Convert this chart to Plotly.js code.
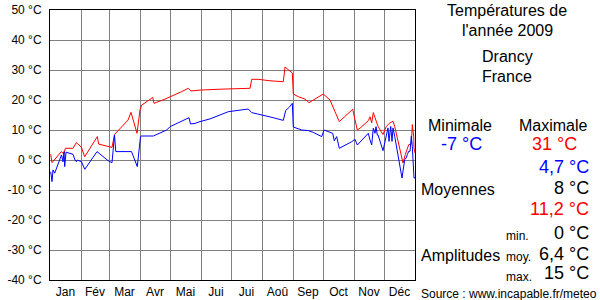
<!DOCTYPE html>
<html>
<head>
<meta charset="utf-8">
<script src="https://cdn.plot.ly/plotly-3.0.1.min.js"></script>
<style>html,body{margin:0;padding:0;background:#fff;}#chart{width:600px;height:300px;}</style>
</head>
<body>
<div id="chart"></div>
<script>
// ---- data (day of year, °C) ----
const maxDays = [0.7,2,11.3,14,15.3,23,26.3,29.7,31.3,34.7,47.3,48.7,58,62,64.5,78,81,83,87,90,91.7,100,102.7,104,115,131.7,138.3,141,150,170,190,200,201.7,208.3,220,233.3,235,238.3,242.3,243.3,248.3,255,259,273.3,280,285,289.3,302.7,307.3,310,318.3,320,321.7,323.3,325,328,333,336.3,339.7,343,344.7,353,355.3,358.7,361.3,362.3,363.7,364,365];
const maxVals = [1.9,-0.9,2.8,2,3.9,3.9,5.8,4.7,4.3,1.1,7.8,5.3,4.4,4.2,8.5,13.3,15.9,13.3,8.9,16.7,18.3,20.2,20.9,18.9,20.3,22.8,23.9,23,23.3,23.6,23.9,23.9,26.9,26.9,26.4,26.1,31,30,29,22,21.1,20.3,19.1,22,20,16.1,12.8,16.9,10,10.6,13.1,14.4,12.4,15.8,13.9,11.2,8.5,11.2,12.3,12.9,11.2,-1,1.8,5.1,5.3,11.8,7.9,4,2.3];
const minDays = [0.7,2,3,4.7,11.5,13,14,14.7,16,20.7,23,25,26.5,27.3,31.5,34.8,47,58,62,64.5,65.8,81.5,87.3,90.5,91,103.3,116.7,120,139,140.5,145,150,160,178.3,198.3,201.7,213.3,223.3,233.3,235.7,239.3,242.3,243.3,251.7,258.3,263.3,271.7,274,282.7,284.3,286.7,289.3,301.7,304,305,307.3,318.3,320,321.7,323.3,325,326,327.3,328,333,336.3,338,339,340.7,342,343,344.7,352,354.7,356.3,357.3,358.7,360,361.3,362.3,363.7,364,365];
const minVals = [-3.9,-7.2,-3.3,-4.4,1.7,-0.6,2.8,-2.2,2.6,2,1.9,0,-0.6,0,-0.6,-3.1,2.8,-0.2,-0.9,8.3,2.8,2.8,-2.2,7.8,8,8,10,11.1,14.1,12,12.2,12.8,13.7,16.1,17,15.8,15,14.1,13.2,16.5,17.6,18.9,11,10,9.8,9.2,7.8,10,8.9,6.4,7.8,3.9,6.1,6.7,6.9,5,8.9,6.7,5,10.6,8.9,11.1,8.3,8.4,3.1,8.4,10.7,6.2,11.2,6.2,10.7,7.9,-6,0.1,0.7,1.8,2.9,2.9,7.9,4.6,-3.2,-6,-6];

const monthStarts = [0,31,59,90,120,151,181,212,243,273,304,334,365];
const monthLabels = ["Jan","Fév","Mar","Avr","Mai","Jui","Jui","Aoû","Sep","Oct","Nov","Déc"];
const yTicks = [-40,-30,-20,-10,0,10,20,30,40,50];
const yUnit = " °C";

const titleLines = ["Températures de","l'année 2009","Drancy","France"];
const extremeLabels = ["Minimale","Maximale"];
const extremeValues = ["-7 °C","31 °C"];
const meanLabel = "Moyennes";
const meanValues = ["4,7 °C","8 °C","11,2 °C"];
const ampLabel = "Amplitudes";
const ampSubLabels = ["min.","moy.","max."];
const ampValues = ["0 °C","6,4 °C","15 °C"];
const sourceText = "Source : www.incapable.fr/meteo";

// ---- layout helpers ----
const L = 50, T = 10, R = 415, B = 280;
const px = x => (x - L) / (R - L);
const py = y => (B - y) / (B - T);
const FONT = "Liberation Sans, Arial, sans-serif";

const monthCenters = monthLabels.map((_, i) => (monthStarts[i] + monthStarts[i+1]) / 2);

function ann(text, x, y, xanchor, size, color) {
  return {text: text, x: px(x), y: py(y), xref: 'paper', yref: 'paper',
    xanchor: xanchor, yanchor: 'middle', showarrow: false,
    font: {family: FONT, size: size, color: color || '#000'}};
}

const annotations = [
  ann(titleLines[0], 507.5, 10, 'center', 16),
  ann(titleLines[1], 507.5, 30, 'center', 16),
  ann(titleLines[2], 507, 57, 'center', 16),
  ann(titleLines[3], 507, 77, 'center', 16),
  ann(extremeLabels[0], 460, 125, 'center', 16),
  ann(extremeLabels[1], 553.5, 125, 'center', 16),
  ann(extremeValues[0], 461.5, 144, 'center', 18, '#0000ff'),
  ann(extremeValues[1], 554, 144, 'center', 18, '#ff0000'),
  ann(meanValues[0], 591, 167, 'right', 18, '#0000ff'),
  ann(meanLabel, 419, 189, 'left', 16),
  ann(meanValues[1], 591, 188, 'right', 18),
  ann(meanValues[2], 591, 209, 'right', 18, '#ff0000'),
  ann(ampSubLabels[0], 504, 236, 'left', 12),
  ann(ampValues[0], 591, 233, 'right', 18),
  ann(ampLabel, 419, 255, 'left', 16),
  ann(ampSubLabels[1], 504, 257, 'left', 12),
  ann(ampValues[1], 591, 254, 'right', 18),
  ann(ampSubLabels[2], 504, 277, 'left', 12),
  ann(ampValues[2], 591, 273, 'right', 18),
  ann(sourceText, 419, 294, 'left', 12)
];

const traces = [
  {x: maxDays, y: maxVals, type: 'scatter', mode: 'lines', line: {color: '#ff0000', width: 1}, hoverinfo: 'skip'},
  {x: minDays, y: minVals, type: 'scatter', mode: 'lines', line: {color: '#0000ff', width: 1}, hoverinfo: 'skip'}
];

const layout = {
  width: 600, height: 300,
  margin: {l: L, r: 600 - R, t: T, b: 300 - B, pad: 0},
  paper_bgcolor: '#fff', plot_bgcolor: '#fff',
  showlegend: false,
  font: {family: FONT, size: 12, color: '#000'},
  xaxis: {
    range: [0, 365], fixedrange: true, zeroline: false,
    tickmode: 'array', tickvals: monthCenters, ticktext: monthLabels,
    showgrid: false, ticks: '', ticklabelstandoff: 1,
    tickfont: {family: FONT, size: 12, color: '#000'},
    minor: {tickmode: 'array', tickvals: monthStarts, showgrid: true, gridcolor: '#808080', gridwidth: 1, ticks: ''},
    showline: true, mirror: true, linecolor: '#000', linewidth: 1
  },
  yaxis: {
    range: [-40, 50], fixedrange: true, zeroline: false,
    tickmode: 'array', tickvals: yTicks, ticktext: yTicks.map(v => v + yUnit),
    showgrid: true, gridcolor: '#808080', gridwidth: 1, ticks: '', ticklabelstandoff: 5,
    tickfont: {family: FONT, size: 12, color: '#000'},
    showline: true, mirror: true, linecolor: '#000', linewidth: 1
  },
  annotations: annotations
};

Plotly.newPlot('chart', traces, layout, {displayModeBar: false, staticPlot: true});
</script>
</body>
</html>
